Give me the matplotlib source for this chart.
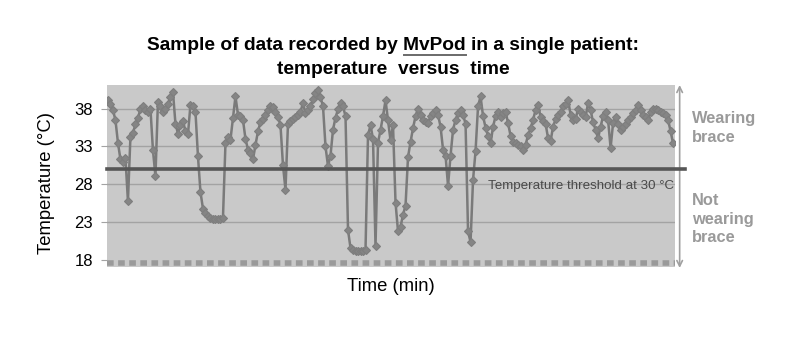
import numpy as np
import matplotlib
matplotlib.use("Agg")
import matplotlib.pyplot as plt

plt.rcParams['font.family'] = ['Liberation Sans', 'DejaVu Sans']

# Skin temperature logged under the brace, one reading every 5 minutes
temps_c = [
    39.1, 38.6, 37.8, 36.5, 33.5, 31.3, 30.9, 31.5, 25.8, 34.3,
    34.8, 35.9, 36.8, 37.9, 38.3, 37.8, 37.6, 38.0, 32.5, 29.1,
    38.9, 38.3, 37.6, 38.0, 38.6, 39.5, 40.2, 36.0, 34.7, 35.8,
    36.4, 35.0, 34.6, 38.5, 38.3, 37.6, 31.7, 27.0, 24.8, 24.2,
    23.8, 23.6, 23.5, 23.4, 23.5, 23.4, 23.6, 33.4, 34.3, 33.9,
    36.8, 39.6, 37.2, 37.0, 36.5, 34.0, 32.6, 32.2, 31.3, 33.2,
    35.0, 36.2, 36.6, 37.2, 37.8, 38.3, 38.2, 37.6, 36.9, 35.8,
    30.5, 27.3, 36.0, 36.4, 36.6, 36.9, 37.2, 37.6, 38.7, 37.4,
    37.8, 38.3, 39.2, 40.0, 40.4, 39.5, 38.3, 33.0, 30.4, 31.8,
    35.2, 36.8, 37.9, 38.7, 38.3, 37.0, 22.0, 19.6, 19.3, 19.2,
    19.2, 19.2, 19.2, 19.4, 34.5, 35.8, 34.0, 19.9, 33.5, 35.2,
    37.0, 39.1, 36.5, 33.8, 35.8, 25.6, 21.8, 22.4, 24.0, 25.2,
    31.6, 33.6, 35.4, 37.0, 38.0, 37.2, 36.5, 36.2, 36.1, 37.0,
    37.4, 37.8, 37.2, 35.6, 32.6, 31.8, 27.8, 31.8, 35.2, 36.5,
    37.4, 37.8, 37.2, 36.0, 21.8, 20.4, 28.6, 32.4, 38.3, 39.6,
    37.0, 35.5, 34.4, 33.4, 35.6, 37.0, 37.6, 36.9, 37.4, 37.6,
    36.1, 34.4, 33.6, 33.4, 33.2, 33.0, 32.6, 33.2, 34.5, 35.4,
    36.5, 37.8, 38.5, 36.9, 36.4, 36.0, 34.1, 33.7, 35.6, 36.6,
    37.2, 37.6, 38.3, 38.6, 39.1, 37.2, 36.5, 36.6, 38.0, 37.6,
    37.2, 36.9, 38.7, 37.8, 36.2, 35.2, 34.1, 35.6, 37.0, 37.6,
    36.5, 32.8, 36.1, 36.9, 36.0, 35.2, 35.6, 36.0, 36.5, 36.9,
    37.4, 37.8, 38.5, 37.8, 37.2, 36.9, 36.5, 37.6, 38.0, 37.9,
    37.8, 37.5, 37.4, 37.2, 36.5, 35.0, 33.4,
]
sample_interval_min = 5
time_min = np.arange(len(temps_c)) * sample_interval_min

threshold_c = 30
y_ticks = [18, 23, 28, 33, 38]

fig = plt.figure(figsize=(7.98, 3.5), dpi=100)
fig.patch.set_facecolor('white')
ax = fig.add_axes([0.134, 0.237, 0.712, 0.520])
ax.set_facecolor('#c9c9c9')

ax.set_xlim(-2, time_min[-1] + 4)
ax.set_ylim(17.1, 41.1)

# horizontal grid
for t in y_ticks[1:]:
    ax.axhline(t, color='#a3a3a3', lw=1.0, zorder=1)

# dense tick row along the time axis
ax.axhline(17.7, color='#9a9a9a', lw=4, ls=(0, (1.2, 0.8)), zorder=1)

# temperature trace
ax.plot(time_min, temps_c, color='#7a7a7a', lw=1.8, marker='D', ms=4.2,
        mfc='#858585', mec='#7e7e7e', mew=0.8, zorder=3)

# threshold line, running out to the arrow on the right
ax.plot([0, 1.017], [threshold_c, threshold_c], transform=ax.get_yaxis_transform(),
        color='#565656', lw=2.6, clip_on=False, zorder=4)
ax.text(0.998, 27.75, 'Temperature threshold at 30 \u00b0C',
        transform=ax.get_yaxis_transform(), ha='right', va='center',
        fontsize=9.6, color='#4a4a4a', zorder=5)

ax.set_yticks(y_ticks)
ax.set_yticklabels([str(t) for t in y_ticks], fontsize=12)
ax.tick_params(axis='y', length=4, color='#a3a3a3', pad=6)
ax.set_xticks([])
for s in ax.spines.values():
    s.set_visible(False)

ax.set_ylabel('Temperature (\u00b0C)', fontsize=13.3)
ax.yaxis.set_label_coords(-0.092, 0.46)
ax.set_xlabel('Time (min)', fontsize=13.3, labelpad=8)

# double-headed arrow at the right edge
ax.annotate('', xy=(1.008, 1.0), xytext=(1.008, -0.005), xycoords='axes fraction',
            arrowprops=dict(arrowstyle='<->', color='#a0a0a0', lw=1.2,
                            mutation_scale=10, shrinkA=0, shrinkB=0))
ax.text(1.03, 0.765, 'Wearing\nbrace', transform=ax.transAxes, ha='left', va='center',
        fontsize=11.8, fontweight='bold', color='#9a9a9a', linespacing=1.3)
ax.text(1.03, 0.262, 'Not\nwearing\nbrace', transform=ax.transAxes, ha='left', va='center',
        fontsize=11.8, fontweight='bold', color='#9a9a9a', linespacing=1.3)

# title, with the device name underlined
title_font = dict(fontsize=13.8, fontweight='bold', color='black')
line1 = 'Sample of data recorded by MvPod in a single patient:'
cx, y1 = 0.493, 1 - 45 / 350
fig.text(cx, y1, line1, ha='center', va='center', **title_font)
fig.text(cx, 1 - 70 / 350, 'temperature  versus  time', ha='center', va='center',
         **title_font)

fig.canvas.draw()
renderer = fig.canvas.get_renderer()
def width_px(s):
    t = fig.text(0, 0, s, **title_font)
    w = t.get_window_extent(renderer).width
    t.remove()
    return w
W = width_px(line1)
w_upto = width_px('Sample of data recorded by MvPod')
w_dev = width_px('MvPod')
left = cx * fig.bbox.width - W / 2
x_end = left + w_upto
x_start = x_end - w_dev
yu = fig.bbox.height - 54.5
fig.add_artist(plt.Line2D([x_start / fig.bbox.width, x_end / fig.bbox.width],
                          [yu / fig.bbox.height] * 2, transform=fig.transFigure,
                          color='#6a6a6a', lw=1.4))

fig.savefig('out.png', dpi=100, facecolor='white')
